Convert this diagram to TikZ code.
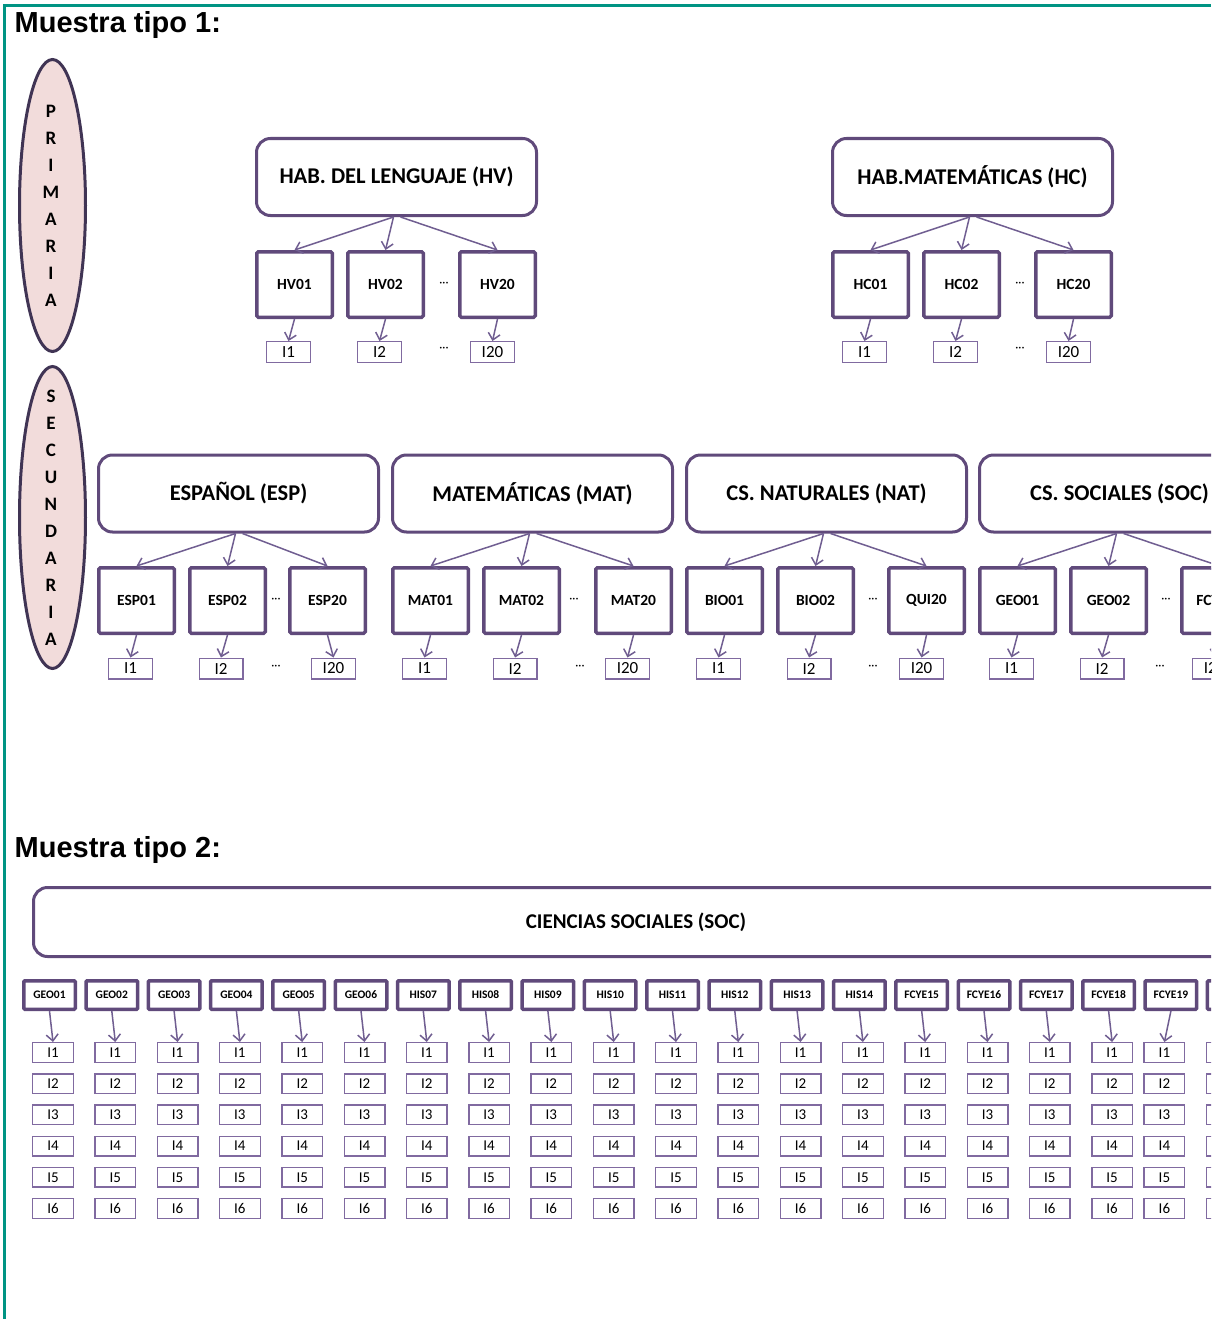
\documentclass[tikz,border=0pt]{standalone}
\usepackage{fontspec}
\setmainfont{Carlito}
\newfontfamily\titlefont{Liberation Sans}
\usetikzlibrary{arrows.meta,shapes.geometric}
\definecolor{frameteal}{RGB}{0,148,131}
\definecolor{boxpurple}{RGB}{96,74,123}
\definecolor{itempurple}{RGB}{128,106,160}
\definecolor{linkpurple}{RGB}{112,94,145}
\definecolor{ovalfill}{RGB}{242,220,219}
\definecolor{ovaldraw}{RGB}{64,52,84}
\begin{document}
\begin{tikzpicture}[x=1pt,y=-1pt,
  heading/.style={anchor=base west, inner sep=0pt, font=\titlefont\bfseries\fontsize{29}{32}\selectfont},
  oval/.style={ellipse, draw=ovaldraw, fill=ovalfill, line width=3pt, inner sep=0pt, minimum width=66pt},
  ovaltext/.style={align=center, inner sep=0pt, font=\bfseries\fontsize{19}{27}\selectfont},
  mainbox/.style={draw=boxpurple, line width=3pt, rounded corners=14pt, inner sep=0pt,
    minimum width=280pt, minimum height=77pt, font=\bfseries\fontsize{22.5}{25}\selectfont},
  subbox/.style={draw=boxpurple, line width=3.5pt, rounded corners=1.5pt, inner sep=0pt,
    minimum width=75.5pt, minimum height=65.5pt, font=\bfseries\fontsize{15.5}{17}\selectfont},
  itembox/.style={draw=itempurple, line width=1.4pt, inner sep=0pt,
    minimum width=43.6pt, minimum height=20.6pt, font=\fontsize{17}{19}\selectfont},
  gap/.style={inner sep=0pt, font=\fontsize{12}{12}\selectfont},
  link/.style={draw=linkpurple, line width=1.5pt, -{Straight Barb[length=6.5pt,width=12pt]}},
  widebox/.style={draw=boxpurple, line width=3pt, rounded corners=14pt, inner sep=0pt,
    minimum width=1205pt, minimum height=69pt, font=\bfseries\fontsize{21}{23}\selectfont},
  smallsub/.style={draw=boxpurple, line width=3.5pt, rounded corners=1pt, inner sep=0pt,
    minimum width=51.5pt, minimum height=28.5pt, font=\bfseries\fontsize{11.5}{13}\selectfont},
  smallitem/.style={draw=itempurple, line width=1.4pt, inner sep=0pt,
    minimum width=40.6pt, minimum height=19.6pt, font=\fontsize{15}{17}\selectfont}
]
\useasboundingbox (0,0) rectangle (1211,1319);
\clip (0,0) rectangle (1211,1319);

% page frame
\draw[frameteal, line width=2.5pt] (4.5,1319) -- (4.5,5.5) -- (1211,5.5);

% headings
\node[heading] (head1) at (14.5,33) {Muestra tipo 1:};
\node[heading] (head2) at (14.5,857) {Muestra tipo 2:};

% level ovals
\node[oval, minimum height=292pt] (prim) at (52.5,205.5) {};
\node[ovaltext] (primtext) at ([xshift=-1.5pt]prim.center) {P\\R\\I\\M\\A\\R\\I\\A};
\node[oval, minimum height=302pt] (secu) at (52.5,517.5) {};
\node[ovaltext] (secutext) at ([xshift=-1.5pt]secu.center) {S\\E\\C\\U\\N\\D\\A\\R\\I\\A};

% primary subjects
\foreach \x/\g/\ttl/\a/\b/\c in {255/hv/{HAB. DEL LENGUAJE (HV)}/HV01/HV02/HV20,
                                  831/hc/{HAB.MATEMÁTICAS (HC)}/HC01/HC02/HC20} {
  \node[mainbox] (\g-main) at (\x+141.5,177) {\ttl};
  \node[subbox] (\g-s1) at (\x+39.5,284.5) {\a};
  \node[subbox] (\g-s2) at (\x+130.5,284.5) {\b};
  \node[subbox] (\g-s3) at (\x+242.5,284.5) {\c};
  \node[gap] (\g-d1) at (\x+189,284) {···};
  \node[itembox] (\g-i1) at (\x+33.5,352) {I1};
  \node[itembox] (\g-i2) at (\x+124.5,352) {I2};
  \node[itembox] (\g-i3) at (\x+237.5,352) {I20};
  \node[gap] (\g-d2) at (\x+189,349) {···};
  \draw[link] ([xshift=-3pt]\g-main.south) -- (\g-s1.north);
  \draw[link] ([xshift=-3pt]\g-main.south) -- (\g-s2.north);
  \draw[link] ([xshift=4pt]\g-main.south) -- (\g-s3.north);
  \draw[link] (\g-s1.south) -- (\g-i1.north);
  \draw[link] (\g-s2.south) -- (\g-i2.north);
  \draw[link] (\g-s3.south) -- (\g-i3.north);
}

% secondary subjects
\foreach \x/\g/\ttl/\a/\b/\c/\sx/\dx/\ix in {
    97/esp/{ESPAÑOL (ESP)}/ESP01/ESP02/ESP20/327.5/276/276,
    391/mat/{MATEMÁTICAS (MAT)}/MAT01/MAT02/MAT20/633.5/574/580,
    685/nat/{CS. NATURALES (NAT)}/BIO01/BIO02/QUI20/926.5/873/873,
    978/soc/{CS. SOCIALES (SOC)}/GEO01/GEO02/FCYE20/1219.5/1166/1160} {
  \node[mainbox] (\g-main) at (\x+141.5,493.5) {\ttl};
  \node[subbox] (\g-s1) at (\x+39.5,600.5) {\a};
  \node[subbox] (\g-s2) at (\x+130.5,600.5) {\b};
  \node[subbox] (\g-s3) at (\sx,600.5) {\c};
  \node[gap] (\g-d1) at (\dx,600) {···};
  \node[itembox] (\g-i1) at (\x+33.5,668.5) {I1};
  \node[itembox] (\g-i2) at (\x+124,668.5) {I2};
  \node[itembox] (\g-i3) at (\x+236.5,668.5) {I20};
  \node[gap] (\g-d2) at (\ix,667) {···};
  \draw[link] ([xshift=-3pt]\g-main.south) -- (\g-s1.north);
  \draw[link] ([xshift=-3pt]\g-main.south) -- (\g-s2.north);
  \draw[link] ([xshift=4pt]\g-main.south) -- (\g-s3.north);
  \draw[link] (\g-s1.south) -- (\g-i1.north);
  \draw[link] (\g-s2.south) -- (\g-i2.north);
  \draw[link] (\g-s3.south) -- (\g-i3.north);
}

% sample type 2: one subject, all its topics and items
\node[widebox] (soc2) at (636,922) {CIENCIAS SOCIALES (SOC)};
\foreach \i/\lab in {0/GEO01,1/GEO02,2/GEO03,3/GEO04,4/GEO05,5/GEO06,
                     6/HIS07,7/HIS08,8/HIS09,9/HIS10,10/HIS11,11/HIS12,12/HIS13,13/HIS14,
                     14/FCYE15,15/FCYE16,16/FCYE17,17/FCYE18,18/FCYE19,19/{}} {
  \pgfmathsetmacro\sxx{49.5+62.3*\i}
  \pgfmathsetmacro\ixx{53+62.3*\i-(\i>17)*10}
  \node[smallsub] (t-\i) at (\sxx,995) {\lab};
  \foreach \k in {1,...,6} {
    \node[smallitem] (t-\i-\k) at (\ixx,1052.5+31.2*\k-31.2) {I\k};
  }
  \draw[link] (t-\i.south) -- (t-\i-1.north);
}
\end{tikzpicture}
\end{document}
